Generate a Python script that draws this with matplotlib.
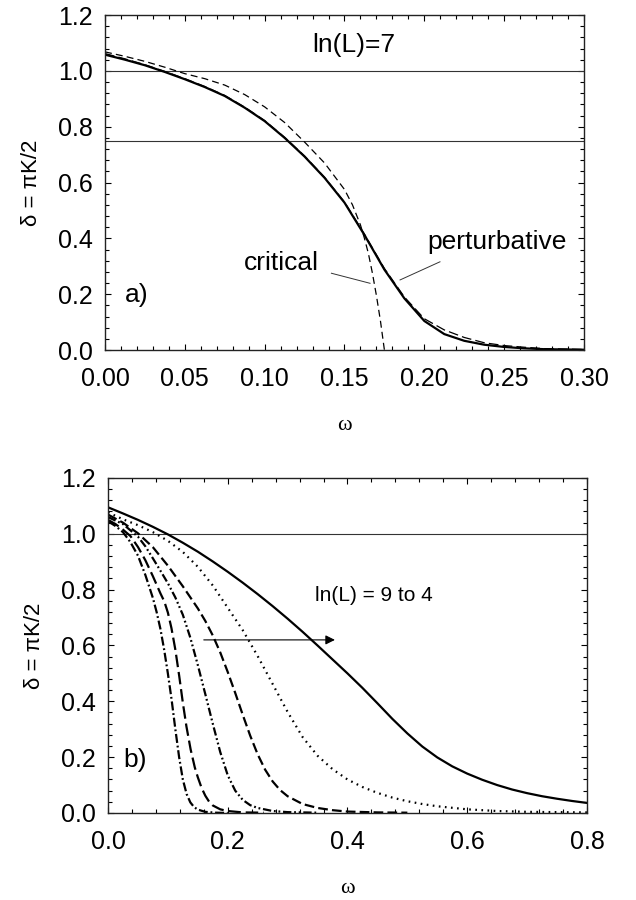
import matplotlib
matplotlib.use("Agg")
import matplotlib.pyplot as plt
from matplotlib.ticker import MultipleLocator, FormatStrFormatter

plt.rcParams['font.family'] = ['Liberation Sans', 'DejaVu Sans']
plt.rcParams['lines.scale_dashes'] = False

# ---------------- Panel a) data : ln(L)=7 ----------------
pert_x = [0.0, 0.0125, 0.025, 0.0375, 0.05, 0.0625, 0.075, 0.0875, 0.1, 0.1125, 0.125,
          0.1375, 0.15, 0.1625, 0.175, 0.1875, 0.2, 0.2125, 0.225, 0.2375, 0.25,
          0.2625, 0.275, 0.3]
pert_y = [1.058, 1.04, 1.02, 0.996, 0.97, 0.942, 0.91, 0.868, 0.82, 0.76, 0.693,
          0.617, 0.528, 0.412, 0.288, 0.185, 0.104, 0.057, 0.033, 0.019, 0.011,
          0.006, 0.003, 0.001]

pert2_x = [0.0, 0.0125, 0.025, 0.0375, 0.05, 0.0625, 0.075, 0.0875, 0.1, 0.1125, 0.125,
           0.1375, 0.15, 0.1625, 0.175, 0.1875, 0.2, 0.2125, 0.225, 0.2375, 0.25,
           0.2625, 0.275, 0.3]
pert2_y = [1.062, 1.043, 1.022, 0.998, 0.972, 0.944, 0.912, 0.87, 0.822, 0.762, 0.695,
           0.619, 0.53, 0.415, 0.292, 0.19, 0.112, 0.072, 0.045, 0.026, 0.016,
           0.01, 0.005, 0.002]

crit_x = [0.0, 0.0125, 0.025, 0.0375, 0.05, 0.0625, 0.075, 0.0875, 0.1, 0.1125, 0.125,
          0.1375, 0.15, 0.155, 0.16, 0.1625, 0.165, 0.1675, 0.17, 0.1725, 0.175]
crit_y = [1.068, 1.052, 1.034, 1.013, 0.99, 0.972, 0.949, 0.915, 0.871, 0.815, 0.745,
          0.67, 0.575, 0.52, 0.448, 0.4, 0.345, 0.275, 0.195, 0.105, 0.0]

ref_lines_a = [1.0, 0.75]

# ---------------- Panel b) data : ln(L) = 9 ... 4 ----------------
l9_x = [0.0, 0.0125, 0.025, 0.0375, 0.05, 0.0625, 0.075, 0.0812, 0.0875, 0.0938, 0.1,
        0.1063, 0.1125, 0.1188, 0.125, 0.1313, 0.1375, 0.1438, 0.15, 0.1625, 0.18, 0.2]
l9_y = [1.045, 1.028, 1.006, 0.97, 0.922, 0.852, 0.77, 0.72, 0.66, 0.585, 0.5,
        0.405, 0.30, 0.20, 0.12, 0.068, 0.038, 0.021, 0.012, 0.004, 0.001, 0.0]

l8_x = [0.0, 0.0125, 0.025, 0.0375, 0.05, 0.0625, 0.075, 0.0875, 0.094, 0.1, 0.106,
        0.1125, 0.119, 0.125, 0.131, 0.138, 0.145, 0.15, 0.1563, 0.1625, 0.169,
        0.175, 0.1875, 0.2, 0.225, 0.26]
l8_y = [1.05, 1.035, 1.015, 0.992, 0.953, 0.905, 0.848, 0.787, 0.758, 0.718, 0.662,
        0.585, 0.49, 0.395, 0.31, 0.228, 0.163, 0.128, 0.09, 0.062, 0.04,
        0.027, 0.013, 0.007, 0.002, 0.001]

l7_x = [0.0, 0.025, 0.05, 0.0625, 0.075, 0.0875, 0.1, 0.1125, 0.125, 0.1375, 0.15,
        0.1625, 0.175, 0.1875, 0.2, 0.2125, 0.225, 0.2375, 0.25, 0.275, 0.3, 0.35]
l7_y = [1.06, 1.035, 0.99, 0.955, 0.912, 0.868, 0.823, 0.772, 0.71, 0.628, 0.53,
        0.426, 0.32, 0.218, 0.135, 0.08, 0.047, 0.028, 0.018, 0.007, 0.003, 0.001]

l6_x = [0.0, 0.025, 0.05, 0.075, 0.1, 0.125, 0.15, 0.1625, 0.175, 0.1875, 0.2,
        0.2125, 0.225, 0.2375, 0.25, 0.2625, 0.275, 0.2875, 0.3, 0.325, 0.35,
        0.375, 0.4, 0.45, 0.5]
l6_y = [1.069, 1.04, 1.002, 0.952, 0.886, 0.812, 0.733, 0.688, 0.636, 0.575, 0.505,
        0.43, 0.352, 0.277, 0.21, 0.155, 0.113, 0.082, 0.06, 0.032, 0.018,
        0.01, 0.005, 0.002, 0.001]

l5_x = [0.0, 0.025, 0.05, 0.075, 0.1, 0.125, 0.15, 0.175, 0.2, 0.225, 0.25, 0.275,
        0.3, 0.325, 0.35, 0.375, 0.4, 0.425, 0.45, 0.475, 0.5, 0.525, 0.55, 0.6,
        0.65, 0.7, 0.75, 0.8]
l5_y = [1.077, 1.052, 1.031, 1.006, 0.975, 0.935, 0.882, 0.815, 0.735, 0.655, 0.562,
        0.462, 0.362, 0.272, 0.205, 0.157, 0.12, 0.093, 0.072, 0.055, 0.042, 0.032,
        0.024, 0.013, 0.007, 0.004, 0.003, 0.002]

l4_x = [0.0, 0.025, 0.05, 0.075, 0.1, 0.125, 0.15, 0.175, 0.2, 0.225, 0.25, 0.275,
        0.3, 0.325, 0.35, 0.375, 0.4, 0.425, 0.45, 0.475, 0.5, 0.525, 0.55, 0.575,
        0.6, 0.625, 0.65, 0.675, 0.7, 0.725, 0.75, 0.775, 0.8]
l4_y = [1.095, 1.073, 1.05, 1.025, 0.998, 0.968, 0.936, 0.901, 0.864, 0.825, 0.784,
        0.741, 0.696, 0.649, 0.60, 0.55, 0.50, 0.448, 0.393, 0.337, 0.285, 0.238,
        0.199, 0.167, 0.141, 0.119, 0.10, 0.084, 0.071, 0.06, 0.051, 0.043, 0.036]

ref_lines_b = [1.0]

# ---------------- Figure ----------------
fig = plt.figure(figsize=(6.36, 9.0), dpi=100)
axA = fig.add_axes([0.1651, 0.6111, 0.7531, 0.3722])
axB = fig.add_axes([0.1698, 0.0967, 0.7531, 0.3722])

TICK_FS = 18
TXT_FS = 19


def style_axes(ax, xmaj, xmin, fmt_x):
    ax.xaxis.set_major_locator(MultipleLocator(xmaj))
    ax.xaxis.set_minor_locator(MultipleLocator(xmin))
    ax.yaxis.set_major_locator(MultipleLocator(0.2))
    ax.yaxis.set_minor_locator(MultipleLocator(0.04))
    ax.xaxis.set_major_formatter(FormatStrFormatter(fmt_x))
    ax.yaxis.set_major_formatter(FormatStrFormatter('%.1f'))
    ax.tick_params(which='both', direction='in', top=True, right=True,
                   color='black', width=0.8)
    ax.tick_params(which='major', length=4.5)
    ax.tick_params(which='minor', length=3)
    ax.tick_params(axis='x', which='major', pad=12, labelsize=TICK_FS)
    ax.tick_params(axis='y', which='major', pad=9, labelsize=TICK_FS)
    for s in ax.spines.values():
        s.set_linewidth(1.0)
        s.set_color('#222222')
    ax.set_ylim(0, 1.2)
    ax.set_ylabel('δ = πK/2', fontsize=16, labelpad=11)
    ax.set_xlabel('ω', fontsize=16, family=['Liberation Serif', 'DejaVu Serif'], labelpad=18)


# ----- Panel a -----
for yv in ref_lines_a:
    axA.axhline(yv, color='#333333', lw=0.8)
axA.plot(pert_x, pert_y, color='black', lw=1.6, solid_capstyle='butt')
axA.plot(pert2_x, pert2_y, color='black', lw=0.9, dashes=(7, 3))
axA.plot(crit_x, crit_y, color='black', lw=0.9, dashes=(5, 3))
axA.set_xlim(0, 0.30)
style_axes(axA, 0.05, 0.01, '%.2f')
axA.text(0.130, 1.092, 'ln(L)=7', fontsize=TXT_FS, va='center', ha='left')
axA.text(0.0125, 0.197, 'a)', fontsize=TXT_FS, va='center', ha='left')
axA.text(0.1105, 0.31, 'critical', fontsize=TXT_FS, va='center', ha='center')
axA.text(0.2456, 0.388, 'perturbative', fontsize=TXT_FS, va='center', ha='center')
axA.plot([0.1418, 0.1660], [0.275, 0.239], color='#333333', lw=0.7)
axA.plot([0.2098, 0.1848], [0.316, 0.251], color='#333333', lw=0.7)

# ----- Panel b -----
for yv in ref_lines_b:
    axB.axhline(yv, color='#333333', lw=0.8)
LW = 1.6
axB.plot(l9_x, l9_y, color='black', lw=LW, dashes=(6.5, 2, 1.3, 2))
axB.plot(l8_x, l8_y, color='black', lw=LW, dashes=(9, 3.5))
axB.plot(l7_x, l7_y, color='black', lw=LW, dashes=(6, 2, 1.3, 2, 1.3, 2))
axB.plot(l6_x, l6_y, color='black', lw=LW, dashes=(7, 3))
axB.plot(l5_x, l5_y, color='black', lw=LW, dashes=(1.2, 3.2))
axB.plot(l4_x, l4_y, color='black', lw=LW)
axB.set_xlim(0, 0.8)
style_axes(axB, 0.2, 0.04, '%.1f')
axB.text(0.025, 0.19, 'b)', fontsize=TXT_FS, va='center', ha='left')
axB.text(0.346, 0.78, 'ln(L) = 9 to 4', fontsize=15, va='center', ha='left')
axB.annotate('', xy=(0.379, 0.62), xytext=(0.16, 0.62),
             arrowprops=dict(arrowstyle='-|>', color='black', lw=0.8,
                             mutation_scale=14, shrinkA=0, shrinkB=0))

fig.savefig('out.png', dpi=100)
